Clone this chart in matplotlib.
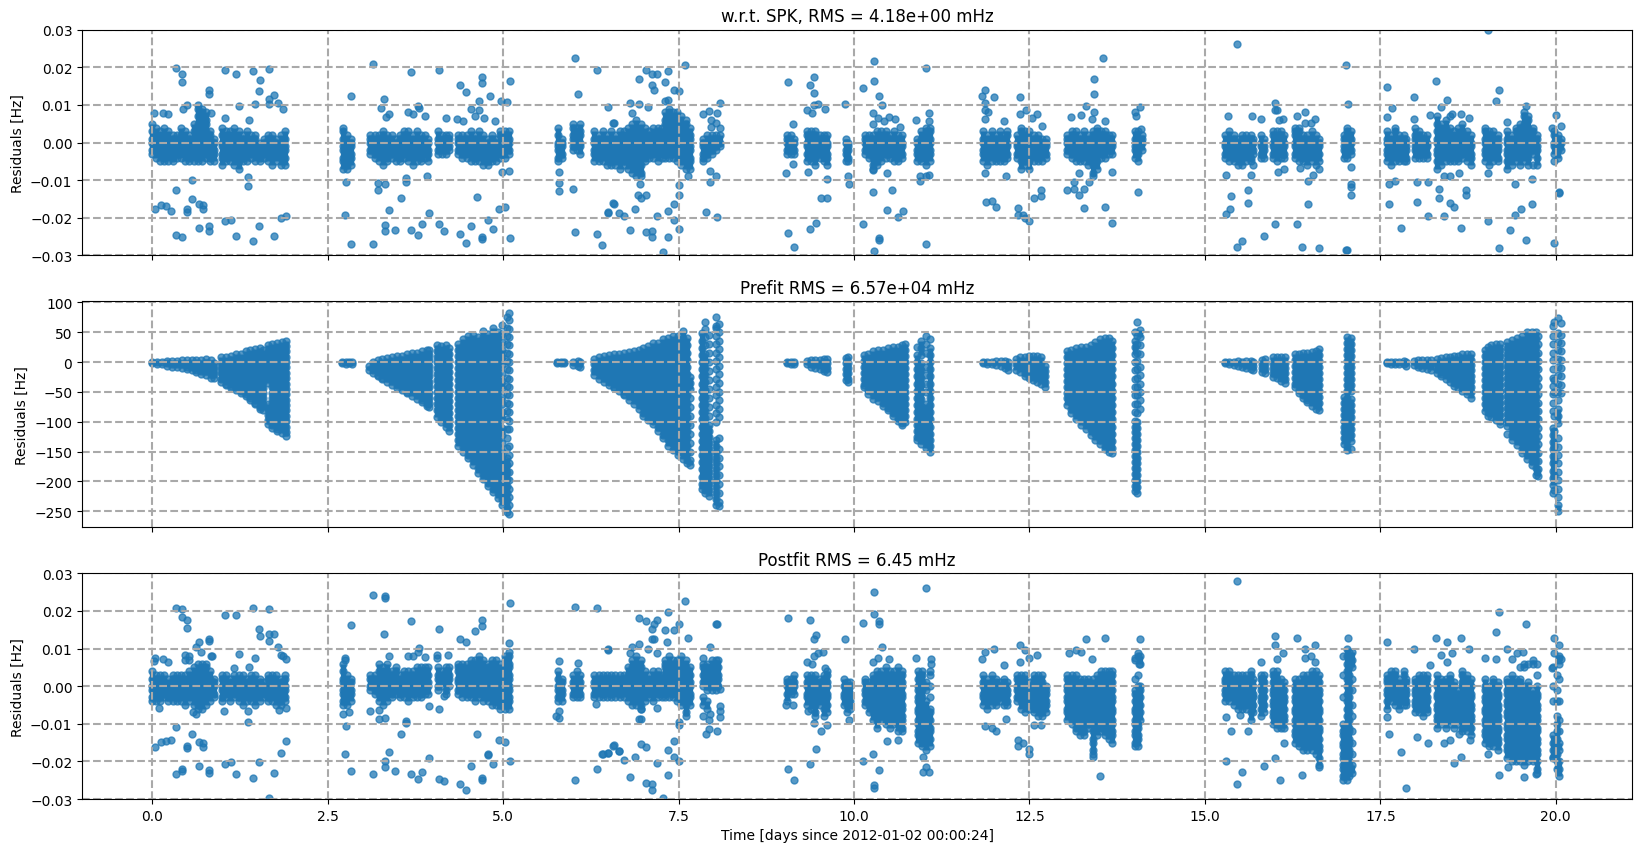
import matplotlib
matplotlib.use('Agg')
import matplotlib.pyplot as plt

# residuals are stored as (time [days], [values]) columns, one list per tracking arc
# spk / post values in mHz, prefit values in Hz
spk_arc1 = [(0.0,[-3,-2,0,1,3,5]),(0.05,[-4,-2,-1,1,2,4]),(0.11,[-5,-3,-2,0,1,3]),(0.17,[-5,-4,-2,-1,1,2,4]),
 (0.23,[-5,-3,-2,0,1,3]),(0.29,[-5,-4,-2,-1,1,2]),(0.35,[-4,-3,-1,0,2]),(0.41,[-4,-2,-1,1,2,4]),
 (0.47,[-5,-3,-2,0,1,3]),(0.53,[-5,-4,-2,-1,1,2]),(0.59,[-5,-3,-2,0,1,3,5]),(0.65,[-5,-4,-2,-1,1,2,4,5,7,9,10]),
 (0.71,[-5,-3,-2,0,1,3,4,6,8,9]),(0.77,[-4,-3,-1,0,2,3,5,6,8]),(0.83,[-5,-4,-2,-1,1,2,3]),(0.88,[-5,-3,-2,0,1]),
 (1.0,[-6,-4,-3,-1,0,2,4]),(1.05,[-5,-4,-2,-1,1,3]),(1.11,[-5,-3,-2,0,1,3]),(1.17,[-6,-4,-2,-1,1,2,4]),
 (1.23,[-7,-5,-3,-2,0,1,3]),(1.29,[-5,-4,-2,-1,1,2]),(1.35,[-5,-3,-2,0,1,3]),(1.41,[-4,-3,-1,0,2]),
 (1.47,[-5,-3,-1,1,2]),(1.53,[-5,-4,-2,-1,0]),(1.59,[-4,-3,-2,0,1]),(1.65,[-5,-3,-2,0,1,2]),
 (1.71,[-6,-4,-2,-1,1,2]),(1.77,[-5,-3,-2,0,1]),(1.83,[-6,-4,-3,-1,0,2]),(1.89,[-6,-4,-2,-1,1,3])]
spk_arc2 = [(2.72,[-7,-5,-4,-2,-1,1,3,4]),(2.78,[-7,-6,-4,-3,-1,0,2]),(2.83,[-6,-4,-3,-1,0,1]),
 (3.11,[-3,-2,0,1,2]),(3.17,[-4,-3,-1,0,2]),(3.23,[-5,-3,-2,0,1,2]),(3.29,[-6,-4,-3,-1,0,2,3]),(3.35,[-5,-4,-2,-1,1,2]),
 (3.41,[-4,-3,-1,0,2]),(3.47,[-5,-3,-2,0,1]),(3.53,[-5,-4,-2,-1,1,2]),(3.59,[-4,-3,-1,0,2,3]),(3.65,[-5,-3,-2,0,1,3]),
 (3.71,[-6,-4,-3,-1,0,2]),(3.77,[-5,-3,-2,0,1,3]),(3.83,[-5,-4,-2,-1,1,2]),(3.89,[-4,-3,-1,0,2]),(3.93,[-5,-3,-2,0,1]),
 (4.07,[-3,-2,0,1,3]),(4.13,[-3,-1,0,2]),(4.19,[-3,-2,0,1,2]),(4.23,[-2,-1,1,2]),
 (4.36,[-3,-2,0,1,2]),(4.42,[-4,-3,-1,0,2]),(4.48,[-4,-2,-1,1,2]),(4.54,[-5,-3,-2,0,1,3]),(4.6,[-5,-4,-2,-1,1,2]),
 (4.66,[-5,-3,-2,0,1,3]),(4.72,[-6,-4,-3,-1,0,2]),(4.78,[-6,-5,-3,-2,0,1]),(4.84,[-5,-4,-2,-1,1,2]),(4.9,[-5,-3,-2,0,1]),
 (4.96,[-4,-3,-1,0,2,3]),(5.02,[-4,-2,-1,1,2,3]),(5.08,[-3,-2,0,1,3])]
spk_arc3 = [(5.78,[-5,-4,-2,-1,0,2,4]),(5.84,[-4,-3,-1,0,1]),(6.0,[-2,-1,1,2,4,5]),(6.05,[-2,0,1,3,4]),(6.09,[-3,-1,0,2,3,5]),
 (6.3,[-5,-3,-2,0,1,3]),(6.36,[-5,-4,-2,-1,1,2]),(6.42,[-5,-3,-2,0,1,3]),(6.48,[-6,-4,-3,-1,0,2]),(6.54,[-6,-5,-3,-2,0,1,3]),
 (6.6,[-6,-4,-3,-1,0,2]),(6.66,[-7,-5,-3,-2,0,1,3]),(6.72,[-6,-5,-3,-2,0,1,3]),(6.78,[-7,-5,-4,-2,-1,1,2,4]),(6.84,[-8,-6,-5,-3,-2,0,1,3,5]),
 (6.9,[-9,-7,-5,-4,-2,-1,1,2,4,6]),(6.96,[-9,-8,-6,-4,-3,-1,0,2,3,5]),(7.02,[-5,-4,-2,-1,1,2,4]),(7.08,[-4,-3,-1,0,2,3]),(7.14,[-4,-2,-1,1,2,4]),
 (7.2,[-5,-3,-2,0,1,3,4]),(7.26,[-4,-2,-1,1,2,4]),(7.3,[-4,-3,-1,0,2,3,5,6,8]),(7.36,[-4,-2,-1,1,2,4,5,7,8,9]),(7.42,[-4,-3,-1,0,2,3,5,6,8]),
 (7.48,[-5,-3,-2,0,1,3,4,6,8]),(7.54,[-6,-4,-3,-1,0,2,3,5,7]),(7.6,[-7,-5,-3,-2,0,1,3,5,6]),(7.66,[-7,-5,-4,-2,-1,1,2,4]),
 (7.85,[-5,-4,-3,-1,0,1]),(7.91,[-4,-3,-1,0,2]),(7.97,[-3,-2,0,1,2]),(8.03,[-2,-1,1,2]),(8.09,[-1,0,2])]
spk_arc4 = [(9.05,[-3,-2,0,1,2]),(9.1,[-3,-1,0,2]),(9.14,[-3,-2,0,1]),(9.33,[-5,-3,-1,0,2,3]),(9.39,[-5,-4,-2,-1,1,2,3]),
 (9.45,[-6,-4,-3,-1,0,2,3]),(9.51,[-4,-3,-2,0,1,2]),(9.57,[-5,-4,-2,-1,1,2]),(9.62,[-6,-4,-3,-1,0,2]),
 (9.88,[-5,-3,-2,0,1]),(9.92,[-5,-4,-2,-1,0]),(10.15,[-3,-2,0,1,2]),(10.21,[-4,-3,-1,0,2]),(10.27,[-7,-6,-4,-2,-1,1,2]),
 (10.33,[-6,-5,-3,-2,0,1,3]),(10.39,[-5,-3,-2,0,1,3]),(10.45,[-4,-3,-1,0,2,3]),(10.51,[-4,-2,-1,1,2]),(10.57,[-5,-3,-2,0,1,3]),
 (10.63,[-5,-4,-2,-1,1,2]),(10.69,[-4,-3,-1,0,2]),(10.9,[-5,-3,-2,0,1]),(10.96,[-5,-4,-2,-1,1,3]),(11.02,[-6,-4,-3,-1,0,2,3,4]),(11.08,[-5,-3,-2,0,1,3,4])]
spk_arc5 = [(11.84,[-5,-3,-2,0,1,3]),(11.9,[-6,-4,-3,-1,0,2]),(11.96,[-5,-3,-2,0,1,3]),(12.02,[-5,-4,-2,-1,1,2]),(12.08,[-5,-3,-2,0,1,3]),
 (12.14,[-5,-4,-2,-1,1,2]),(12.18,[-4,-3,-1,0,2,3]),(12.32,[-4,-3,-1,0,2]),(12.38,[-7,-5,-3,-2,0,1,3,4]),(12.44,[-6,-5,-3,-2,0,1,3]),
 (12.5,[-7,-5,-4,-2,-1,0,1,3]),(12.56,[-5,-3,-2,0,1,2]),(12.62,[-5,-4,-2,-1,1,2]),(12.68,[-5,-3,-2,0,1]),(12.73,[-4,-3,-1,0,1]),
 (13.04,[-3,-2,0,1,2]),(13.1,[-4,-3,-1,0,2,3]),(13.16,[-5,-3,-2,0,1,3]),(13.22,[-5,-4,-2,-1,1,2]),(13.28,[-5,-3,-2,0,1,3]),
 (13.34,[-6,-4,-3,-1,0,2]),(13.4,[-9,-8,-6,-4,-3,-1,0,2,3]),(13.46,[-7,-5,-3,-2,0,1,3,4]),(13.52,[-4,-3,-1,0,2,3]),(13.58,[-4,-2,-1,1,2,3]),(13.64,[-3,-2,0,1,2]),(13.68,[-3,-1,0,2]),
 (14.0,[-4,-2,-1,1,3]),(14.05,[-5,-3,-2,0,1,3]),(14.1,[-2,0,1,2])]
spk_arc6 = [(15.29,[-4,-3,-1,0,2]),(15.35,[-5,-3,-2,0,1,3]),(15.41,[-5,-4,-2,-1,1,2]),(15.47,[-6,-4,-3,-1,0,1]),(15.53,[-6,-4,-2,-1,1,2]),
 (15.59,[-5,-3,-2,0,1,2]),(15.65,[-5,-4,-2,-1,1,2]),(15.69,[-6,-3,-2,0,1]),(15.8,[-4,-3,-1,0,2]),(15.84,[-4,-2,-1,1]),
 (15.97,[-4,-3,-1,0,2,3]),(16.03,[-5,-3,-2,0,1,3]),(16.09,[-4,-2,-1,1,2,3]),(16.13,[-4,-3,-1,0,2]),
 (16.28,[-4,-3,-1,0,2,3,4]),(16.34,[-5,-3,-2,0,1,3,4]),(16.4,[-5,-4,-2,-1,1,2]),(16.46,[-6,-4,-3,-1,0,2]),(16.52,[-5,-3,-2,0,1,3]),(16.58,[-6,-4,-3,-1,0,2]),(16.63,[-5,-3,-1,0,1]),
 (16.98,[-4,-2,-1,1,2]),(17.03,[-4,-3,-1,0,2,3,4]),(17.08,[-3,-2,0,1,3])]
spk_arc7 = [(17.59,[-5,-3,-2,0,1,3]),(17.65,[-6,-4,-3,-1,0,2]),(17.71,[-5,-3,-2,0,1,3,4]),(17.77,[-5,-4,-2,-1,1,2]),(17.83,[-5,-3,-2,0,1,2]),(17.87,[-5,-4,-2,-1,1]),
 (17.99,[-4,-2,-1,1,2,4]),(18.05,[-4,-3,-1,0,2,3]),(18.11,[-4,-2,-1,1,2]),(18.17,[-4,-3,-1,0,2]),
 (18.31,[-7,-5,-3,-2,0,1,3,5,7]),(18.37,[-6,-4,-3,-1,0,2,3,5]),(18.43,[-5,-3,-2,0,1,3,4,6]),(18.49,[-5,-4,-2,-1,1,2,4,7]),(18.55,[-5,-3,-2,0,1,3]),(18.61,[-5,-4,-2,-1,1,2,4]),
 (18.67,[-4,-3,-1,0,2,3,5]),(18.73,[-5,-3,-2,0,1,3]),(18.79,[-6,-4,-3,-1,0,2]),
 (18.99,[-5,-3,-2,0,1,3,4]),(19.05,[-6,-4,-3,-1,0,2,3]),(19.11,[-5,-3,-2,0,1,3]),(19.17,[-5,-4,-2,-1,1,2]),
 (19.31,[-7,-5,-3,-2,0,1,3]),(19.37,[-6,-4,-3,-1,0,2]),(19.43,[-5,-3,-2,0,1,3,4]),(19.49,[-6,-4,-2,-1,1,2,4,5]),(19.55,[-5,-3,-2,0,1,3,5,7,8]),
 (19.61,[-6,-4,-3,-1,0,2,4,6,7]),(19.67,[-6,-3,-2,0,1,3,4]),(19.73,[-6,-4,-2,-1,1,2]),(19.98,[-3,-1,0,2,3]),(20.03,[-4,-2,-1,1,2]),(20.08,[-2,0,1])]

spk_out = [(.34,19.8),(.43,18.2),(.43,16.1),(1.04,19.2),(1.2,18.2),(1.44,19),(1.67,19.5),(1.54,16.6),(1.52,13.7),(1.74,12.7),(1.67,11.7),(1.67,10.3),(1.79,10.5),(1.86,8.9),(1.47,10.3),(1.23,9.7),(.81,14),(.81,12.8),(.49,10.1),(.44,8.9),(.02,7.9),(.15,7.9),(.22,7.6),(.84,7.9),(1.03,6.5),(1.38,6),
 (.57,-9.9),(.34,-12.6),(1.36,-9.1),(1.36,-11.5),(.57,-15),(.66,-16.3),(.73,-16.5),(.73,-17.6),(.5,-17.6),(.5,-18.4),(.27,-18.1),(.19,-16.8),(.12,-16.5),(.04,-17.6),(1.9,-19.5),(1.83,-20),(1.12,-20.5),(1.04,-20.8),(.81,-22.1),(.81,-23.5),(.66,-22.7),(1.52,-22.1),(.34,-24.5),(.43,-25),(1.2,-24.8),(1.74,-24.8),(1.44,-26.1),
 (3.15,20.9),(2.83,12.4),(3.69,18.8),(4.09,19.3),(4.39,15.3),(4.47,13.5),(4.7,17.4),(4.7,15.8),(4.82,12.4),(4.66,11.1),(4.97,11.1),(5.05,10.8),(5.1,16.4),(3.3,11.6),(3.26,9.2),(3.78,9.7),(3.8,9.2),(3.37,7.6),(3.33,6.8),(3.65,8.1),(3.72,7.6),(3.88,7.1),(4.19,6.5),(4.34,6.3),(4.43,5.8),(4.54,8.9),(4.66,8.7),(4.6,7.1),(4.73,6.5),(4.88,5.8),
 (2.76,-10.5),(3.22,-10.7),(3.31,-11),(3.22,-12.6),(3.62,-9.4),(3.62,-10.5),(3.91,-8.8),(4.99,-7.8),(5.08,-7.5),(3.54,-14.7),(4.63,-14.4),(2.75,-19.2),(3.38,-17.9),(3.94,-18.7),(5.02,-17.1),(4.94,-17.6),(4.79,-20.5),(3.31,-21.9),(3.31,-23.5),(3.46,-23.2),(3.69,-23.2),(3.85,-21.6),(4.08,-21.6),(4.16,-23.5),(3.78,-24.5),(4.39,-24.2),(4.54,-22.1),(4.86,-22.9),(4.7,-25),(4.7,-25.6),(5.1,-25.3),(2.83,-26.9),(3.15,-26.9),(4.47,-26.6),
 (6.03,22.5),(6.34,19.3),(6.06,12.9),(6.5,9.5),(6.58,5.2),(5.79,-7.8),(5.79,-10.7),(5.79,-12.8),(6,-12.3),(6.58,-16.3),(6.5,-18.7),(6.03,-23.7),(6.34,-24.2),(6.41,-27.2),
 (6.93,16.9),(7.04,19.3),(7.12,18.1),(7.19,18.3),(7.35,18.9),(7.3,16),(7.12,15.2),(7.15,13.9),(7.43,14.1),(7.5,13.6),(7.59,20.7),(6.81,10.4),(6.93,10.2),(7.06,9.4),(6.83,7.8),(6.56,5.2),(7.3,11),(7.35,11.2),
 (6.95,-11.1),(6.92,-13.8),(6.96,-14.8),(7.04,-13.8),(6.56,-16.1),(6.88,-17.7),(6.49,-18.5),(6.65,-18.8),(6.72,-19.6),(7.19,-19.6),(7.35,-18.2),(7.43,-16.4),(7.43,-20.6),(7.5,-11.4),(7.5,-13.8),(7.5,-23),(6.81,-23.2),(7.04,-23.8),(7.12,-23.5),(7.12,-25.1),(7.35,-25.1),(7.28,-29),
 (8.09,10.4),(7.85,7.5),(7.93,8.3),(8.05,7.8),(7.96,6),(8.09,3.9),(7.96,4.1),(8.04,5.2),(7.63,-8.8),(7.95,-7.5),(8.03,-9),(7.95,-10.6),(7.89,-18.5),(8.05,-19.8),
 (9.06,16.2),(9.37,15.2),(9.43,17.3),(9.43,13.1),(9.43,9.9),(9.49,10.2),(9.33,8.6),(9.4,7.8),(9.59,8.9),(9.87,10.2),(9.13,4.9),(9.13,-5.6),(9.03,-8),(9.35,-7.7),(9.62,-9.8),(9.92,-9),(9.93,-11.1),(9.53,-14.8),(9.62,-14.6),(9.46,-21.4),(9.37,-23),(9.06,-24),(9.15,-27.7),
 (10.29,21.8),(10.29,16.5),(10.13,14.6),(10.36,12.5),(10.4,9.9),(10.27,7.8),(10.34,6.5),(10.5,6.8),(10.43,5.7),(10.59,6.2),(10.89,6),(11.02,19.9),(11.07,7.8),(11.07,5.7),(10.27,4.9),(10.66,4.1),
 (10.47,-8.2),(10.27,-7.2),(10.27,-13.2),(10.54,-12.7),(10.47,-18),(10.7,-18.2),(10.63,-19.8),(10.13,-21.7),(10.36,-25.4),(10.36,-25.9),(10.29,-28.8),(11.02,-26.9),(10.94,-9),(11.02,-8.8),(11.07,-8.5),(10.94,-10.1),
 (11.86,14.1),(11.83,12.3),(11.99,12),(11.86,10.4),(11.86,8.6),(11.91,8.1),(11.86,6.2),(12.14,5.7),(12.37,12),(12.45,8.6),(12.37,7.5),(12.54,6.5),(12.61,7.5),(12.68,4.4),
 (11.86,-8.2),(12.17,-9),(11.88,-15.9),(11.96,-15.6),(12.03,-17.2),(12.34,-17.5),(12.34,-19.3),(12.41,-19.3),(12.43,-20),(12.5,-20.9),(12.57,-14.6),(12.66,-12.7),(12.66,-14.3),
 (13.55,22.5),(13.42,17),(13.42,12.8),(13.31,9.6),(13.42,8.1),(13.09,6.8),(13.23,7.3),(13.39,6.2),(13.58,5.7),(13.2,-8),(13.67,-7.7),(13.13,-10.6),(13.04,-12.5),(13.13,-12.2),(13.28,-12.2),(13.2,-14),(13.28,-17.5),(13.58,-17.2),(13.67,-21.4),(13.35,-10.6),
 (14.08,9.4),(14,8.1),(14.02,7),(14.09,3.6),(14.05,-13.2),
 (15.46,26.2),(15.33,7),(15.67,7),(15.8,6.2),(16,10.4),(16,8.6),(16.03,8.6),(16.11,6.2),(16.05,6),(16.31,7),(16.43,8.1),(16.57,6.2),(16.43,5.2),(16.51,5.2),(17.01,20.7),(17.04,10.2),
 (15.3,-8.5),(15.66,-8.5),(16.04,-7.7),(16.13,-6.9),(16.35,-6.7),(16.54,-8.5),(16.62,-6.9),(16.47,-10.1),(15.61,-12.5),(15.37,-14.3),(15.61,-16.1),(16.47,-16.4),(15.36,-17.7),(15.3,-19),(16,-21.7),(16.31,-21.7),(15.84,-24.8),(15.53,-26.1),(15.46,-27.7),(16.38,-27.7),(16.62,-28),(17.01,-28.5),(17.02,-28.5),(17.08,-6.4),(17.08,-11.1),(17.08,-11.9),(17.08,-13.8),
 (19.03,30),(17.59,14.9),(17.66,9.1),(17.59,6.8),(18.29,16.5),(17.98,12),(18.45,11.2),(18.36,9.4),(17.98,6.2),(18.21,7.3),(18.52,7.5),(18.65,7.5),(18.76,6.5),(19.15,11),(19.19,14.1),(19.31,5.4),(19.58,9.6),(20,7.3),(20.07,4.4),(19.95,3.9),
 (17.63,-10.9),(17.63,-16.4),(17.79,-22.7),(17.71,-10.1),(18.02,-10.4),(18.18,-10.4),(18.02,-15.9),(18.34,-12.2),(18.34,-14.6),(18.49,-16.1),(18.55,-17.2),(18.18,-19.6),(18.41,-19.6),(18.65,-22.7),(18.72,-12.7),(18.72,-14),(18.62,-8.2),(18.49,-9),(18.41,-8.8),(19.03,-8),(19.42,-10.9),(19.66,-9.8),(19.66,-16.4),(19.5,-17.7),(19.42,-19.3),(19.03,-20.9),(19.35,-23.2),(19.58,-25.9),(19.19,-28),(19.98,-26.7),(20.04,-13),(20.04,-13.5),(19.98,-4.8)]

pre_arc1 = [(0.0,[0,-1]),(0.07,[1,-3]),(0.14,[1,-4]),(0.21,[2,-2,-6]),(0.28,[2,-3,-8]),(0.35,[2,-3,-9]),(0.42,[3,-4,-10]),(0.49,[3,-3,-8,-12]),(0.56,[3,-3,-9,-14]),
 (0.63,[4,-2,-8,-14,-17]),(0.7,[4,-3,-9,-15,-20]),(0.77,[5,-2,-9,-15,-22]),(0.84,[4,-4,-12,-20,-26]),(0.88,[-2,-10,-18,-26]),
 (0.98,[8,-1,-10,-19,-28,-34]),(1.05,[9,0,-9,-18,-27,-36,-38]),(1.12,[11,3,-5,-14,-23,-32,-40,-43]),(1.19,[13,4,-5,-14,-23,-32,-41,-47]),(1.26,[14,5,-4,-13,-22,-31,-40,-48,-52]),
 (1.33,[18,9,0,-9,-18,-27,-36,-45,-54,-57]),(1.4,[20,11,2,-7,-16,-25,-34,-43,-52,-61,-64]),(1.47,[22,13,4,-5,-14,-23,-32,-41,-50,-59,-68,-71]),(1.54,[24,15,6,-3,-12,-21,-30,-39,-48,-57,-66,-75,-79]),(1.58,[20,11,2,-7,-16,-25,-34,-43,-52,-61,-70,-80]),
 (1.65,[28,19,10,1,-8,-17,-26,-35,-70,-79,-88,-97,-104]),(1.71,[30,21,12,3,-6,-15,-24,-33,-42,-51,-60,-69,-78,-87,-96,-105,-110]),(1.78,[32,23,14,5,-4,-13,-22,-31,-40,-49,-58,-67,-76,-85,-94,-103,-112,-116]),
 (1.85,[34,25,16,7,-2,-11,-20,-29,-38,-47,-56,-65,-74,-83,-92,-101,-110,-119]),(1.91,[36,27,18,9,0,-9,-18,-27,-36,-45,-54,-63,-72,-81,-90,-99,-108,-117,-124])]
pre_arc2 = [(2.71,[0,-2]),(2.76,[1,-3]),(2.81,[0,-2]),(2.85,[0,-3]),
 (3.09,[-7,-13]),(3.14,[1,-6,-14,-18]),(3.21,[3,-5,-13,-21,-24]),(3.28,[5,-3,-11,-19,-27,-29]),(3.35,[7,-2,-10,-18,-26,-34]),(3.42,[8,0,-8,-16,-24,-32,-38]),(3.49,[10,1,-7,-15,-23,-31,-39,-43]),
 (3.56,[11,3,-6,-14,-22,-30,-38,-46]),(3.63,[13,4,-5,-14,-23,-32,-41,-50,-52]),(3.7,[15,6,-3,-12,-21,-30,-39,-48,-57]),(3.77,[16,7,-2,-11,-20,-29,-38,-47,-56,-62]),(3.84,[18,9,0,-9,-18,-27,-36,-45,-54,-63,-67]),(3.91,[20,11,2,-7,-16,-25,-34,-43,-52,-61,-70,-74]),(3.95,[21,12,3,-6,-15,-24,-33,-42,-51,-60,-69,-76]),
 (4.06,[28,19,9,0,-10,-20,-30,-40,-50,-60,-70,-80,-92]),(4.12,[27,17,7,-3,-13,-23,-33,-43,-53,-63,-73,-83,-93,-100]),(4.18,[28,18,8,-2,-12,-22,-32,-42,-52,-62,-72,-82,-92,-102,-108]),(4.23,[24,14,4,-6,-16,-26,-36,-46,-56,-66,-76,-86,-96,-106,-116]),
 (4.36,[30,20,10,0,-10,-20,-30,-40,-50,-60,-70,-80,-90,-100,-110,-120,-130,-140]),(4.43,[38,28,18,8,-2,-12,-22,-32,-42,-52,-62,-72,-82,-92,-102,-112,-122,-132,-142,-150]),
 (4.5,[44,34,24,14,4,-6,-16,-26,-36,-46,-56,-66,-76,-86,-96,-106,-116,-126,-136,-146,-156,-160]),(4.57,[45,35,25,15,5,-5,-15,-25,-35,-45,-55,-65,-75,-85,-95,-105,-115,-125,-135,-145,-155,-165,-172]),
 (4.64,[42,32,22,12,2,-8,-18,-28,-38,-48,-58,-68,-78,-88,-98,-108,-118,-128,-138,-148,-158,-168,-178,-186]),(4.71,[52,42,32,22,12,2,-8,-18,-28,-38,-48,-58,-68,-78,-88,-98,-108,-118,-128,-138,-148,-158,-168,-178,-188,-196]),
 (4.78,[47,37,27,17,7,-3,-13,-23,-33,-43,-53,-63,-73,-83,-93,-103,-113,-123,-133,-143,-153,-163,-173,-183,-193,-203,-207]),(4.85,[58,48,38,28,18,8,-2,-12,-22,-32,-42,-52,-62,-72,-82,-92,-102,-112,-122,-132,-142,-152,-162,-172,-182,-192,-202,-212,-218]),
 (4.92,[50,40,30,20,10,0,-10,-20,-30,-40,-50,-60,-70,-80,-90,-100,-110,-120,-130,-140,-150,-160,-170,-180,-190,-200,-210,-220,-228]),(4.99,[62,47,34,20,8,-4,-18,-32,-44,-58,-70,-84,-96,-110,-122,-136,-150,-160,-170,-180,-190,-200,-210,-220,-230,-240]),
 (5.05,[75,58,44,30,16,2,-12,-26,-40,-54,-68,-82,-96,-112,-128,-144,-160,-172,-184,-196,-208,-220,-232,-244,-252]),(5.09,[83,70,56,42,28,14,0,-14,-28,-42,-56,-70,-84,-98,-112,-140,-155,-170,-185,-198,-212,-226,-240,-254])]
pre_arc3 = [(5.77,[0,-2]),(5.82,[1,-2]),(5.87,[0,-2]),(6.0,[0,-5]),(6.06,[2,-6]),(6.1,[0,-8]),
 (6.3,[6,-4,-14,-21]),(6.37,[9,0,-9,-18,-28]),(6.44,[10,1,-8,-17,-26,-33]),(6.51,[12,3,-6,-15,-24,-33,-38]),(6.58,[13,4,-5,-14,-23,-32,-41,-44]),(6.65,[14,5,-4,-13,-22,-31,-40,-49]),
 (6.72,[16,6,-4,-14,-24,-34,-44,-54,-56]),(6.79,[17,7,-3,-13,-23,-33,-43,-53,-63]),(6.86,[19,9,-1,-11,-21,-31,-41,-51,-61,-71]),(6.93,[21,11,1,-9,-19,-29,-39,-49,-59,-69,-79]),
 (7.0,[24,14,4,-6,-16,-26,-36,-46,-56,-66,-76,-86,-90]),(7.07,[27,17,7,-3,-13,-23,-33,-43,-53,-63,-73,-83,-93,-97]),(7.14,[32,22,12,2,-8,-18,-28,-38,-48,-58,-68,-78,-88,-98,-104]),
 (7.21,[32,22,12,2,-8,-18,-28,-38,-48,-58,-68,-78,-88,-98,-108,-116]),(7.28,[38,28,18,8,-2,-12,-22,-32,-42,-52,-62,-72,-82,-92,-102,-112,-122,-128]),(7.35,[40,30,20,10,0,-10,-20,-30,-40,-50,-60,-70,-80,-90,-100,-110,-120,-130,-140]),
 (7.42,[43,33,23,13,3,-7,-17,-27,-37,-47,-57,-67,-77,-87,-97,-107,-117,-127,-137,-147]),(7.49,[44,34,24,14,4,-6,-16,-26,-36,-46,-56,-66,-76,-86,-96,-106,-116,-126,-136,-146,-156]),
 (7.56,[52,40,28,16,4,-8,-20,-32,-44,-56,-68,-80,-92,-104,-116,-128,-140,-152,-162]),(7.62,[40,28,16,4,-8,-20,-32,-44,-56,-68,-80,-92,-104,-116,-128,-140,-152,-164,-170]),(7.66,[-25,-35,-45,-60,-75,-90,-105,-120,-135,-150,-165,-172]),
 (7.83,[48,36,24,12,0,-12,-24,-36,-48,-60,-72,-84,-96,-108,-120,-132,-144,-156,-168,-180,-192,-204,-213]),(7.88,[68,55,42,28,14,2,-10,-22,-34,-46,-58,-70,-82,-94,-106,-118,-130,-142,-154,-166,-178,-190,-202,-214,-220]),(7.93,[45,30,15,0,-15,-30,-45,-60,-75,-90,-105,-115,-125,-135,-145,-155,-165,-175,-185,-195,-205,-215,-225]),
 (8.03,[76,60,58,44,30,16,2,-12,-28,-42,-56,-72,-86,-100,-130,-140,-150,-160,-170,-180,-190,-200,-210,-220,-230,-240]),(8.07,[64,50,36,22,8,-6,-20,-35,-50,-64,-78,-92,-128,-145,-160,-175,-190,-205,-220,-235,-242])]
pre_arc4 = [(9.05,[0,-2]),(9.1,[1,-3]),(9.15,[0,-3]),(9.33,[2,-4]),(9.39,[3,-3,-9]),(9.45,[3,-3,-10]),(9.51,[4,-3,-11]),(9.57,[5,-3,-11,-15]),(9.62,[5,-2,-10,-17]),
 (9.88,[7,-2,-11,-20,-30]),(9.92,[8,-1,-10,-19,-28,-33]),
 (10.14,[12,2,-8,-18,-28,-38,-42]),(10.2,[14,4,-6,-16,-26,-36,-46,-54]),(10.27,[18,8,-2,-12,-22,-32,-42,-52,-62]),(10.34,[21,11,1,-9,-19,-29,-39,-49,-59,-66]),(10.41,[21,11,1,-9,-19,-29,-39,-49,-59,-69,-74]),
 (10.48,[23,13,3,-7,-17,-27,-37,-47,-57,-67,-77,-81]),(10.55,[25,15,5,-5,-15,-25,-35,-45,-55,-65,-75,-85,-90]),(10.62,[26,16,6,-4,-14,-24,-34,-44,-54,-64,-74,-84,-94,-98]),(10.69,[28,18,8,-2,-12,-22,-32,-42,-52,-62,-72,-82,-92,-102,-106]),(10.73,[30,20,10,0,-10,-20,-30,-40,-50,-60,-70,-80,-90,-100]),
 (10.9,[25,12,0,-12,-24,-36,-48,-60,-72,-84,-96,-106,-116,-126,-130]),(10.96,[36,24,12,-2,-14,-26,-38,-50,-62,-74,-86,-98,-110,-120,-130,-138]),(11.02,[44,30,16,-8,-22,-36,-50,-70,-82,-94,-106,-116,-126,-136,-144]),(11.08,[38,24,12,0,-12,-24,-36,-48,-60,-72,-84,-96,-108,-120,-130,-140,-150])]
pre_arc5 = [(11.84,[1,-2]),(11.9,[1,-3]),(11.97,[1,-4]),(12.03,[2,-5]),(12.09,[2,-7]),(12.15,[2,-4,-10]),(12.19,[0,-6,-13]),
 (12.31,[6,-3,-13]),(12.37,[9,0,-9,-17]),(12.43,[9,0,-9,-18,-24]),(12.49,[10,1,-8,-17,-26]),(12.55,[11,2,-7,-16,-25,-30]),(12.61,[11,2,-7,-16,-25,-33]),(12.67,[8,-1,-10,-19,-28,-37]),(12.72,[-7,-15,-24,-33,-42]),
 (13.03,[19,9,-1,-11,-21,-31,-41,-51,-60,-72]),(13.09,[21,11,1,-9,-19,-29,-39,-49,-59,-69,-79,-85]),(13.16,[23,13,3,-7,-17,-27,-37,-47,-57,-67,-77,-87,-95]),(13.23,[25,15,5,-5,-15,-25,-35,-45,-55,-65,-75,-85,-95,-105]),
 (13.3,[26,16,6,-4,-14,-24,-34,-44,-54,-64,-74,-84,-94,-104,-112]),(13.37,[28,18,8,-2,-12,-22,-32,-42,-52,-62,-72,-82,-92,-102,-112,-122]),(13.44,[33,22,11,0,-11,-22,-33,-44,-55,-66,-77,-88,-99,-110,-121,-130]),(13.51,[38,26,14,2,-10,-22,-34,-46,-58,-70,-82,-94,-106,-118,-130,-137]),
 (13.58,[40,28,16,4,-8,-20,-32,-44,-56,-68,-80,-92,-104,-116,-128,-140,-145]),(13.64,[40,28,16,4,-8,-20,-32,-44,-56,-68,-80,-92,-104,-116,-128,-140,-150]),(13.68,[36,24,12,0,-12,-24,-36,-48,-60,-72,-84,-96,-108,-120,-132,-144,-153]),
 (14.0,[50,36,26,14,0,-14,-28,-42,-56,-70,-84,-98,-108,-118,-128,-138,-148,-158,-168,-178,-188,-198,-208,-216]),(14.03,[68,44,30,16,2,-12,-26,-42,-56,-70,-85,-100,-110,-120,-130,-140,-150,-160,-170,-180,-190,-200,-210,-219]),(14.07,[54,42,28,14,-8,-22,-36,-50,-64,-78])]
pre_arc6 = [(15.29,[1,-2]),(15.35,[1,-3]),(15.41,[1,-5]),(15.47,[2,-6]),(15.53,[1,-8]),(15.59,[2,-5,-10]),(15.65,[2,-5,-12]),(15.69,[0,-7,-13]),
 (15.81,[4,-3,-10,-17]),(15.85,[5,-3,-11,-18]),(15.97,[8,-1,-10,-19,-25]),(16.03,[9,0,-9,-18,-27]),(16.09,[9,0,-9,-18,-27,-32]),(16.14,[8,-1,-10,-19,-28,-35]),
 (16.28,[13,4,-6,-16,-26,-36,-42]),(16.34,[14,4,-6,-16,-26,-36,-46,-52]),(16.4,[15,5,-5,-15,-25,-35,-45,-55,-60]),(16.46,[16,6,-4,-14,-24,-34,-44,-54,-64,-67]),(16.52,[17,7,-3,-13,-23,-33,-43,-53,-63,-73]),(16.58,[19,9,-1,-11,-21,-31,-41,-51,-61,-71,-79]),(16.63,[22,12,2,-8,-18,-28,-38,-48,-58,-68,-80]),
 (16.98,[-58,-68,-78,-88,-98,-108,-118,-128,-138]),(17.03,[42,32,22,12,2,-8,-18,-28,-38,-48,-60,-70,-80,-90,-100,-110,-120,-130,-140,-147]),(17.08,[41,31,21,11,1,-9,-19,-29,-39,-49,-62,-72,-82,-92,-102,-112,-122,-132,-145])]
pre_arc7 = [(17.59,[1,-2]),(17.65,[1,-3]),(17.71,[1,-3]),(17.77,[1,-4]),(17.83,[2,-4]),(17.87,[1,-6]),
 (17.98,[2,-5]),(18.04,[3,-5,-8]),(18.1,[3,-5,-10]),(18.16,[4,-4,-12]),(18.22,[4,-4,-14]),
 (18.31,[6,-3,-12,-18]),(18.37,[7,-2,-11,-20,-24]),(18.43,[8,-1,-10,-19,-28]),(18.49,[9,0,-9,-18,-27,-34]),(18.55,[10,1,-8,-17,-26,-35,-40]),(18.61,[11,2,-7,-16,-25,-34,-43]),
 (18.67,[13,4,-5,-14,-23,-32,-41,-48]),(18.73,[14,5,-4,-13,-22,-31,-40,-49,-54]),(18.79,[13,4,-5,-14,-23,-32,-41,-50,-60]),
 (18.99,[20,10,0,-10,-20,-30,-40,-50,-60,-70,-82]),(19.04,[26,16,6,-4,-14,-24,-34,-44,-54,-64,-74,-84,-90]),(19.07,[28,18,8,-2,-12,-22,-32,-42,-52,-62,-72,-82,-92]),
 (19.15,[30,20,10,0,-10,-20,-30,-40,-50,-60,-70,-80,-90,-97]),(19.2,[31,21,11,1,-9,-19,-29,-39,-49,-59,-69,-79,-89,-99,-103]),
 (19.31,[33,23,13,3,-7,-17,-27,-37,-47,-57,-67,-77,-87,-97,-107,-120]),(19.38,[37,27,17,7,-3,-13,-23,-33,-43,-53,-63,-73,-83,-93,-103,-113,-123,-130]),(19.45,[41,31,21,11,1,-9,-19,-29,-39,-49,-59,-69,-79,-89,-99,-109,-119,-129,-139]),
 (19.52,[44,34,24,14,4,-6,-16,-26,-36,-46,-56,-66,-76,-86,-96,-106,-116,-126,-136,-146,-152]),(19.59,[50,38,26,14,2,-10,-22,-34,-46,-58,-70,-82,-94,-106,-118,-130,-142,-154,-162]),(19.66,[50,38,26,14,2,-10,-22,-34,-46,-58,-70,-82,-94,-106,-118,-130,-142,-154,-166,-172]),
 (19.72,[50,38,26,14,2,-10,-22,-34,-46,-58,-70,-82,-94,-106,-118,-130,-142,-154,-166,-178,-190]),(19.75,[44,30,16,2,-12,-26,-40,-54,-68,-82,-96,-110,-124,-138,-152,-166,-180,-191]),
 (19.96,[60,44,30,16,3,-12,-26,-40,-54,-68,-82,-110,-122,-134,-146,-158,-170,-182,-194,-206,-220]),(19.98,[68,-30,-50,-90,-115,-140,-165,-190,-215]),(20.03,[74,48,34,20,6,-8,-22,-36,-50,-64,-78,-90,-102,-128,-142,-156,-170,-184,-198,-212,-226,-240,-250]),(20.07,[66,46,32,18,4,-10,-24,-38,-52])]

post_arc1 = [(0.0,[-4,-3,-1,0,2,4]),(0.05,[-4,-2,-1,1,2,3]),(0.11,[-4,-3,-1,0,1,3]),(0.17,[-3,-2,0,1,3]),(0.23,[-4,-3,-1,0,2]),(0.29,[-4,-2,-1,1,2,3]),(0.35,[-4,-3,-1,0,2,3]),(0.41,[-4,-2,0,1,3]),
 (0.47,[-5,-3,-2,0,1,3]),(0.53,[-4,-2,-1,1,2,4]),(0.59,[-5,-3,-2,0,1,3,5]),(0.65,[-6,-5,-3,-2,0,1,3,4,6]),(0.71,[-6,-4,-3,-1,0,2,3,5,6]),(0.77,[-5,-3,-2,0,1,3,5,6]),(0.83,[-4,-2,-1,1,2,4]),(0.88,[-3,-2,0,1,2]),
 (1.0,[-4,-3,-1,0,2,3]),(1.05,[-3,-2,0,1,3]),(1.11,[-4,-2,-1,1,2]),(1.17,[-3,-2,0,1,3]),(1.23,[-4,-3,-1,0,2,3]),(1.29,[-5,-3,-2,0,1,3]),(1.35,[-4,-2,-1,1,2]),(1.41,[-4,-3,-1,0,2,3]),
 (1.47,[-5,-3,-2,0,1,3]),(1.53,[-4,-2,-1,1,2]),(1.59,[-3,-2,0,1]),(1.65,[-4,-3,-1,0,2,3]),(1.71,[-4,-2,-1,1,2,3]),(1.77,[-5,-3,-2,0,1,3]),(1.83,[-5,-4,-2,-1,1,2]),(1.89,[-4,-3,-1,0,2,3])]
post_arc2 = [(2.72,[-5,-4,-2,-1,1,2,4,6]),(2.78,[-5,-3,-2,0,1,3]),(2.83,[-4,-2,-1,1,2]),
 (3.11,[-1,0,2,3]),(3.17,[-2,-1,1,2,3]),(3.23,[-4,-2,-1,1,2,4,6]),(3.29,[-5,-3,-2,0,1,3,5]),(3.35,[-4,-2,-1,1,2,4,6]),(3.41,[-3,-2,0,1,3,4]),(3.47,[-2,-1,1,2,4,5]),(3.53,[-3,-2,0,1,3]),
 (3.59,[-3,-1,0,2,3,4]),(3.65,[-4,-2,-1,1,2,4]),(3.71,[-3,-2,0,1,3,4]),(3.77,[-3,-1,0,2,3,5]),(3.83,[-3,-2,0,1,3,4,5]),(3.89,[-2,-1,1,2,4,5]),(3.93,[-2,0,1,3,5]),
 (4.07,[-1,0,2,3,5]),(4.13,[0,1,3,4]),(4.19,[-2,-1,1,2,4,5]),(4.23,[0,2,3,5]),
 (4.36,[-2,-1,1,2,4,5,6]),(4.42,[-3,-1,0,2,3,5,6]),(4.48,[-3,-2,0,1,3,4,6]),(4.54,[-3,-2,0,2,3,5,6,7]),(4.6,[-4,-2,-1,1,2,4,5,7]),(4.66,[-3,-2,0,1,3,4,6,7,8]),
 (4.72,[-4,-2,-1,1,2,4,5,7]),(4.78,[-4,-3,-1,0,2,3,5,6]),(4.84,[-5,-3,-2,0,1,3,4,6,7]),(4.9,[-5,-4,-2,-1,1,2,4,5,7]),(4.96,[-6,-5,-3,-2,0,1,3,4,6]),(5.02,[-6,-5,-3,-1,0,2,3,5,7,8]),(5.08,[-6,-4,-3,-1,0,2,3,5,6,8,9])]
post_arc3 = [(5.78,[-4,-3,-1,0,2,4]),(5.84,[-4,-2,-1,1,2]),(6.0,[-3,-2,0,1,3]),(6.05,[-3,-1,0,2,4]),(6.09,[-3,-2,0,1,3]),
 (6.3,[-3,-2,0,1,3]),(6.36,[-3,-1,0,2,3]),(6.42,[-3,-2,0,1,3]),(6.48,[-3,-1,0,2,3]),(6.54,[-3,-2,0,1,3]),(6.6,[-3,-1,0,2,3]),(6.66,[-3,-2,0,1,3]),(6.72,[-3,-1,0,2,3]),
 (6.78,[-4,-2,0,1,3,5]),(6.84,[-5,-3,-2,0,1,3,5,7]),(6.9,[-5,-3,-1,0,2,3,5,6,8]),(6.96,[-6,-5,-3,-2,0,1,3,5,7]),(7.02,[-4,-2,-1,1,2,4]),(7.08,[-3,-2,0,1,3]),(7.14,[-4,-2,-1,1,2,4]),(7.2,[-3,-2,0,1,3,4]),(7.26,[-3,-1,0,2,3]),
 (7.3,[-3,-2,0,1,3,5,6,7]),(7.36,[-3,-1,0,2,3,5,6,8]),(7.42,[-3,-2,0,1,3,4,6,7]),(7.48,[-4,-2,-1,1,2,4,5,7]),(7.54,[-5,-4,-2,-1,1,2,4,6,8]),(7.6,[-8,-7,-5,-3,-2,0,1,3,5,7]),(7.66,[-5,-3,-2,0,1,3,5]),
 (7.85,[-5,-3,0,1,3,5,6]),(7.91,[-6,-4,-1,0,2,3,5,6]),(7.97,[-1,0,2,3,5,7]),(8.03,[-1,1,2,4,6,7]),(8.06,[0,2,3,5,7])]
post_arc4 = [(9.05,[-4,-2,0,1,2]),(9.1,[-2,-1,1,2]),(9.14,[-2,0,1,3]),(9.33,[-5,-3,-2,0,1,3]),(9.39,[-6,-4,-3,-1,0,2,3]),(9.45,[-8,-7,-5,-3,-2,0,1,3]),(9.51,[-5,-3,-2,0,1,2]),(9.57,[-8,-6,-4,-3,-1,0,2,3]),(9.62,[-7,-5,-3,-2,0,1,3,4]),
 (9.86,[-5,-3,-2,0,2]),(9.9,[-7,-5,-4,-2,-1,1]),(9.94,[-6,-4,-2,0,1]),
 (10.15,[-5,-4,-2,-1,1,2]),(10.21,[-7,-5,-3,-2,0,1]),(10.27,[-9,-7,-5,-4,-2,-1,1,2,3]),(10.33,[-11,-9,-8,-6,-5,-3,-2,0,1,3,4]),(10.39,[-9,-8,-6,-5,-3,-2,0,1,3,4]),(10.45,[-10,-9,-7,-6,-4,-3,-1,0,2,3,5]),
 (10.51,[-11,-9,-8,-6,-5,-3,-2,0,1,3,4]),(10.57,[-10,-8,-7,-5,-4,-2,-1,1,2,4]),(10.63,[-12,-10,-9,-7,-6,-4,-3,-1,0,2,3,5]),(10.69,[-12,-11,-9,-8,-6,-5,-3,-2,0,1,3,4]),
 (10.91,[-15,-13,-12,-10,-9,-7,-6,-4,-3,-1,0,2,4]),(10.97,[-16,-15,-13,-11,-10,-8,-7,-5,-3,-1,1,3,4]),(11.03,[-17,-15,-13,-12,-10,-9,-7,-6,-4,-1,1]),(11.08,[-16,-14,-12,-11,-9,-7,-6,-3,0,3,4])]
post_arc5 = [(11.84,[-5,-3,-2,0,1,3]),(11.9,[-6,-4,-3,-1,0,2]),(11.96,[-5,-3,-2,0,1,3]),(12.02,[-5,-4,-2,-1,1,2]),(12.08,[-4,-3,-1,0,1]),(12.14,[-5,-3,-2,0,1,2]),(12.18,[-5,-4,-2,-1,1]),
 (12.32,[-4,-3,-1,0,2,3]),(12.38,[-6,-4,-2,-1,1,2,3]),(12.44,[-7,-5,-3,-2,0,1,3]),(12.5,[-6,-5,-3,-2,0,1]),(12.56,[-7,-6,-4,-2,-1,1,2,3]),(12.62,[-8,-6,-5,-3,-2,0,1,3]),(12.68,[-8,-7,-5,-4,-2,-1,1,3]),(12.73,[-7,-5,-4,-2,-1,0]),
 (13.04,[-9,-7,-6,-4,-3,-1,0,2,3]),(13.1,[-10,-9,-7,-6,-4,-3,-1,0,2,3]),(13.16,[-12,-11,-9,-8,-6,-5,-3,-2,0,1,3]),(13.22,[-13,-11,-10,-8,-7,-5,-4,-2,-1,1,2]),(13.28,[-13,-12,-10,-9,-7,-6,-4,-3,-1,0,2]),
 (13.34,[-11,-10,-8,-7,-5,-4,-2,-1,1,2]),(13.4,[-18,-17,-15,-14,-12,-10,-9,-7,-6,-4,-3,-1,0,2]),(13.46,[-13,-11,-10,-8,-7,-5,-4,-2,-1,1,3]),(13.52,[-12,-11,-9,-8,-6,-5,-3,-2,0,1,3,4]),(13.58,[-13,-12,-10,-8,-7,-5,-4,-2,-1,1,2,4]),(13.64,[-14,-13,-11,-10,-8,-7,-5,-4,-2,-1,1,2,4]),(13.68,[-15,-13,-12,-10,-9,-7,-6,-4,-3,-1,1,3,4]),
 (14.0,[-16,-15,-13,-12,-10,-9,-7,-6,-4,-2,-1,2,7]),(14.04,[-16,-14,-13,-11,-10,-8,-6,-4,-2,0,3,8]),(14.08,[-9,-7,-5,-3,-1,0,6,8])]
post_arc6 = [(15.29,[-4,-2,-1,1,2,4]),(15.35,[-4,-3,-1,0,2,3,4]),(15.41,[-5,-3,-2,0,1,3]),(15.47,[-6,-4,-2,-1,1,2,3]),(15.53,[-6,-5,-3,-2,0,1,3]),(15.59,[-6,-4,-3,-1,0,2,3]),(15.65,[-9,-7,-5,-3,-2,0,1,3,4]),(15.69,[-7,-5,-3,-2,0,2]),
 (15.8,[-8,-6,-4,-3,-1,0,2,3]),(15.84,[-7,-5,-3,-1,1,3]),
 (15.97,[-10,-8,-7,-5,-4,-2,-1,1,3,4]),(16.03,[-11,-10,-8,-6,-5,-3,-2,0,2,4]),(16.09,[-11,-9,-7,-6,-4,-3,-1,0,2]),(16.13,[-11,-9,-8,-6,-4,-3,-1,1]),
 (16.28,[-15,-13,-12,-10,-9,-7,-6,-4,-3,-1,0,2]),(16.34,[-16,-15,-13,-12,-10,-9,-7,-6,-4,-3,-1,0,2]),(16.4,[-17,-15,-14,-12,-11,-9,-8,-6,-5,-3,-2,0,1,3]),(16.46,[-17,-16,-14,-13,-11,-10,-8,-7,-5,-4,-2,-1,1,3]),
 (16.52,[-17,-15,-14,-12,-11,-9,-8,-6,-5,-3,-2,0,1,3,4]),(16.58,[-18,-16,-15,-13,-12,-10,-9,-7,-6,-4,-3,-1,0,2,4]),(16.62,[-21,-19,-17,-16,-14,-12,-11,-9,-7,-6,-4,-2,-1,1,3]),
 (16.97,[-25,-24,-22,-21,-19,-18,-16,-15,-13,-12,-10,-3,3,8]),(17.02,[-25,-23,-22,-20,-19,-17,-16,-14,-13,-11,-10,-8,-6,-4,-2,0,2,4,6,8,10]),(17.06,[-24,-23,-21,-20,-18,-17,-15,-14,-12,-11,-9,-7,-5,-3,-1,1,3,5,7,9]),(17.09,[-23,-21,-18,-15,-12,-8,-5,-1,2,5,7,9])]
post_arc7 = [(17.59,[-6,-4,-2,-1,1,2,3]),(17.65,[-4,-3,-1,0,2,3,4]),(17.71,[-5,-3,-2,0,1,3,4]),(17.77,[-6,-4,-3,-1,0,2]),(17.83,[-5,-3,-2,0,1,3,4]),(17.87,[-5,-4,-2,-1,1,2]),
 (17.99,[-7,-5,-4,-2,-1,1,2]),(18.05,[-7,-6,-4,-3,-1,0,2,3]),(18.11,[-8,-6,-5,-3,-2,0,1,3]),(18.17,[-7,-6,-4,-3,-1,0,2,3]),
 (18.31,[-11,-9,-8,-6,-5,-3,-2,0,1,3]),(18.37,[-10,-8,-7,-5,-4,-2,-1,1,2]),(18.43,[-11,-9,-8,-6,-5,-3,-2,0,1,2]),(18.49,[-10,-8,-7,-5,-4,-2,-1,1,2,3]),(18.55,[-11,-9,-8,-6,-5,-3,-2,0,1]),(18.61,[-10,-8,-7,-5,-4,-2,-1]),
 (18.67,[-12,-11,-9,-8,-6,-5,-3,-2,0,1,3,4]),(18.73,[-12,-10,-9,-7,-6,-4,-3,-1,0,2,3]),(18.79,[-13,-11,-9,-8,-6,-5,-3,-2,0,2]),
 (18.99,[-15,-13,-12,-10,-9,-7,-6,-4,-3,-1,0,2]),(19.05,[-16,-15,-13,-12,-10,-9,-7,-6,-4,-3,-1,0]),(19.11,[-16,-14,-13,-11,-10,-8,-7,-5,-4,-2,-1,1,2]),(19.17,[-17,-15,-14,-12,-11,-9,-8,-6,-5,-3,-2,0,1]),
 (19.31,[-19,-17,-16,-14,-13,-11,-10,-8,-7,-5,-4,-2,-1,1,2]),(19.37,[-20,-18,-17,-15,-14,-12,-11,-9,-8,-6,-5,-3,-2,0,1,3]),(19.43,[-20,-19,-17,-16,-14,-13,-11,-10,-8,-7,-5,-4,-2,-1,1,2]),(19.49,[-20,-18,-17,-15,-14,-12,-11,-9,-8,-6,-5,-3,-2,0,1,2,5]),
 (19.55,[-21,-19,-18,-16,-15,-13,-12,-10,-9,-7,-6,-4,-3,-1,0,5,6]),(19.61,[-20,-18,-17,-15,-14,-12,-11,-9,-8,-6,-5,-3,-2,0,1,6]),(19.67,[-20,-19,-17,-16,-14,-13,-11,-10,-8,-7,-5,-4,-2,-1,6,7]),(19.73,[-23,-22,-20,-18,-17,-15,-14,-12,-11,-9,-8,-6,-5,-3,-2,0,3,6]),
 (19.96,[-19,-17,-15,-13,-4,0,5]),(20.01,[-22,-20,-18,-16,-14,-12,-10,-8,-4,-1,3]),(20.05,[-24,-22,-20,-17,-15,-12,-9,-4,2,6,8])]

post_out = [(.34,20.7),(.43,20.4),(.43,18.3),(.5,17.5),(.5,15.4),(1.04,18.8),(1.2,18.8),(1.44,20.7),(1.67,20.4),(1.52,15.1),(1.54,13.3),(1.67,13.8),(1.74,13.8),(1.67,11.9),(1.79,10.4),(1.83,8.2),(1.9,7.2),(1.86,8),(1.47,7.4),(1.23,8.5),(1.38,5),(1.16,4.8),(.81,12.5),(.81,11.9),(.66,11.7),(.62,10.4),(.69,9),(.46,8.2),(.53,8),(.46,6.9),(.53,7),(.84,8),(.85,8),(.04,7.4),(.02,6.6),(.15,7.2),(.22,6.4),
 (.34,-10.9),(1.36,-9.6),(1.36,-6.6),(1.02,-6.6),(.57,-12.7),(.66,-14.9),(.73,-15.1),(.73,-16.2),(.5,-15.9),(.5,-16.5),(.27,-14.3),(.19,-14.6),(.12,-14.9),(.04,-16.2),(1.9,-14.6),(1.83,-17.8),(1.12,-20.2),(1.04,-20.7),(.81,-22.3),(.81,-23.1),(.66,-21.2),(1.52,-20.2),(.43,-22),(.43,-22.6),(.34,-23.4),(1.2,-23.4),(1.74,-23.1),(1.44,-24.4),(1.67,-29.7),(.1,-5.8),(.58,-7),(.63,-7.4),(1.8,-6.4),(1.9,-5.8),
 (3.15,24.2),(3.31,24),(3.31,23.4),(2.83,16.2),(3.69,17.3),(4.09,15.1),(3.3,13.8),(4.39,12.5),(4.47,11.7),(4.7,17.5),(4.7,15.9),(4.6,14.6),(5.1,22),(5.08,11.4),(3.8,10.1),(3.78,9),(3.65,8),(3.72,8),(3.37,8),(3.88,7.7),(4.06,8.2),(4.06,7.4),(4.22,8.2),(2.74,7.4),(2.74,6.9),
 (2.72,-7.4),(2.8,-6.9),(2.76,-10.6),(3.11,-6.6),(3.23,-6.4),(3.23,-8.8),(3.31,-8.5),(3.62,-9.3),(3.62,-9.8),(3.94,-5.3),(4.08,-6.1),(4.16,-2.7),(3.54,-12.7),(4.63,-12.7),(2.75,-18),(3.38,-17.5),(3.94,-19.1),(4.94,-14.3),(5.02,-14.9),(4.79,-18),(4.79,-18.4),(3.31,-19.9),(3.31,-21.5),(3.46,-22.6),(3.69,-23.4),(2.83,-22.6),(3.15,-23.4),(3.85,-22.8),(3.78,-24.7),(4.08,-24.7),(4.16,-25.2),(4.39,-26),(4.47,-27.6),(4.54,-21.2),(4.86,-20.7),(4.7,-24.4),(4.7,-25),(5.1,-19.9),
 (6.03,21),(6.34,20.7),(6.5,9.8),(5.79,6.6),(6.06,6.1),(5.79,-6.6),(5.76,-8),(5.8,-8.5),(6.33,-4.8),(6.58,-15.7),(6.5,-17.8),(6.42,-18.1),(6.65,-17.3),(6.34,-22),(6.03,-25),
 (6.93,18.2),(7.04,17.2),(7.19,17.7),(7.15,16.6),(7.12,15.3),(7.35,19.8),(7.3,15),(7.43,15),(7.5,16.4),(7.59,22.7),(7.12,12.4),(7.15,12.4),(7.63,12.7),(6.49,9.7),(6.93,11.3),(6.83,10.5),(7.06,10),(7.33,11.6),(7.19,8.7),(6.81,8.7),
 (7.19,-5.9),(6.96,-6.2),(6.93,-8.8),(6.96,-8.8),(7.5,-9.4),(7.5,-10.4),(6.96,-15.5),(7.04,-16.3),(6.56,-15.8),(6.49,-17.9),(6.41,-18.1),(6.65,-17.3),(6.72,-19.7),(6.88,-18.9),(7.19,-20.5),(7.35,-17.1),(7.43,-14.7),(7.43,-18.9),(7.5,-20),(7.35,-23.7),(6.81,-24.2),(7.04,-25.8),(7.12,-26.1),(7.12,-27.7),(7.28,-29.8),
 (8.03,16.4),(8.05,16.4),(7.95,10.5),(7.85,7.6),(8.09,-.8),(8.09,-5.4),(8.09,-6.7),(8.09,-8.3),(7.85,-8),(7.95,-7.3),(7.93,-9.1),(7.93,-11.5),(7.89,-12.6),(8.05,-12),
 (9.06,18),(9.37,17.7),(9.46,13.7),(9.43,12.4),(9.87,12.4),(9.56,9.2),(9.49,8.7),(9.43,7.9),(9.33,6.3),(9.4,6),(9.59,4.7),(9.03,-4.9),(9.13,-5.1),(9.35,-6.5),(9.43,-9.9),(9.62,-10.4),(9.53,-11.8),(9.93,-9.1),(9.46,-16.8),(9.37,-20.8),(9.06,-21.9),(9.15,-25),
 (10.29,24.9),(10.29,19.3),(10.13,16.9),(10.36,17.4),(10.36,16.6),(10.4,10.3),(11.02,26.2),(10.34,7.6),(10.27,6.3),(10.5,7.1),(10.89,7.6),(11.09,7.3),(11.09,6),(10.47,-14.7),(10.27,-18.1),(10.13,-20),(10.36,-22.4),(10.29,-26.4),(10.29,-27.2),(10.99,-18.9),(11.02,-21.6),(10.99,-22.7),(11.07,-22.7),(10.63,-14.4),
 (11.99,10),(11.86,9.2),(11.83,7.3),(12.14,5.5),(12.37,10.8),(12.43,9.5),(12.49,7.6),(12.61,8.4),(12.37,6.3),(12.17,-8.8),(11.86,-10.7),(11.96,-11),(12.03,-12),(12.34,-14.2),(12.34,-16),(12.41,-15.2),(12.5,-16.8),(12.5,-18.1),(12.57,-10.4),(12.66,-10.4),
 (13.31,12.4),(13.58,12.7),(13.07,8.9),(13.16,9.7),(13.23,9.2),(13.39,7.1),(13.51,-24),(13.41,-18.8),
 (14.08,12.4),(14.05,8.7),(14,7.6),(14.06,5.8),
 (15.46,28),(16,13.2),(16,10.8),(16.31,12.7),(16.43,10),(16.57,10.8),(16.43,7.6),(16.51,8.1),(16.57,6.5),(16.11,8.7),(16.03,7.1),(15.8,6.5),(17.04,12.7),(15.3,-8.2),(15.5,-7.8),(15.37,-11.8),(15.61,-12),(16.13,-15.2),(15.3,-20),(16,-19.2),(15.84,-21.3),(15.53,-22.9),(15.46,-26.1),(16.07,-25),(16.38,-23.7),(16.62,-21.6),
 (17.59,11.6),(17.98,10),(18.29,12.7),(18.45,11.6),(18.52,8.9),(18.36,8.4),(18.45,6.5),(18.21,5.5),(18.65,12.9),(18.76,10),(19.19,19.6),(19.15,14.5),(19.58,16.4),(19.31,10),(19.15,7.1),(18.99,7.6),(19.37,7.3),(19.45,8.9),(19.53,9.2),(19.98,12.7),(20.04,10.8),(19.98,8.7),(20.07,7.1),(19.95,4.7),(20.04,7.6),
 (17.59,-8.3),(17.63,-12.8),(18.02,-13.6),(18.18,-15),(17.79,-17.6),(17.87,-27.2),(18.41,-15.2),(18.49,-14.4),(18.62,-12.8),(18.65,-18.7),(18.55,-20.5),(18.78,-14.4),(19.03,-18.1),(19.19,-23.7),(19.32,-21.6),(19.55,-24.2),(19.72,-23.4),(19.96,-18.9)]

titles = ['w.r.t. SPK, RMS = 4.18e+00 mHz', 'Prefit RMS = 6.57e+04 mHz', 'Postfit RMS = 6.45 mHz']
xlabel = 'Time [days since 2012-01-02 00:00:24]'
ylabel = 'Residuals [Hz]'


def unpack(arcs, scale=1.0, extra=()):
    t, r = [], []
    for arc in arcs:
        for col_t, col_vals in arc:
            for v in col_vals:
                t.append(col_t)
                r.append(v * scale)
    for col_t, v in extra:
        t.append(col_t)
        r.append(v * scale)
    return t, r


def dense_runs(arcs, max_gap, scale=1.0):
    # stretches of a column where neighbouring samples overlap, drawn solid under the points
    x, lo, hi = [], [], []
    for arc in arcs:
        for col_t, col_vals in arc:
            vals = sorted(col_vals)
            start = vals[0]
            for a, b in zip(vals, vals[1:] + [None]):
                if b is None or b - a > max_gap:
                    if a > start:
                        x.append(col_t)
                        lo.append(start * scale)
                        hi.append(a * scale)
                    start = b
    return x, lo, hi


spk_arcs = [spk_arc1, spk_arc2, spk_arc3, spk_arc4, spk_arc5, spk_arc6, spk_arc7]
pre_arcs = [pre_arc1, pre_arc2, pre_arc3, pre_arc4, pre_arc5, pre_arc6, pre_arc7]
post_arcs = [post_arc1, post_arc2, post_arc3, post_arc4, post_arc5, post_arc6, post_arc7]

spk_t, spk_r = unpack(spk_arcs, 1e-3, spk_out)
pre_t, pre_r = unpack(pre_arcs)
post_t, post_r = unpack(post_arcs, 1e-3, post_out)

fig, ax = plt.subplots(nrows=3, ncols=1, sharex=True, figsize=(16.41, 8.53), dpi=100)
plt.subplots_adjust(left=0.05, right=0.9947, top=0.964, bottom=0.0621, hspace=0.2037)

ax[0].vlines(*dense_runs(spk_arcs, 2.1, 1e-3), color='C0', linewidth=3.8, zorder=1)
ax[1].vlines(*dense_runs(pre_arcs, 12.5), color='C0', linewidth=3.8, zorder=1)
ax[2].vlines(*dense_runs(post_arcs, 2.1, 1e-3), color='C0', linewidth=3.8, zorder=1)

ax[0].scatter(spk_t, spk_r, s=25, alpha=0.75, zorder=1)
ax[1].scatter(pre_t, pre_r, s=25, alpha=0.75, zorder=1)
ax[2].scatter(post_t, post_r, s=25, alpha=0.75, zorder=1)

for i in range(3):
    ax[i].grid(True, color='darkgray', linestyle='--', linewidth=1.5)
    ax[i].set_title(titles[i], fontsize=12)
    ax[i].set_ylabel(ylabel)

ax[0].set_ylim(-0.03, 0.03)
ax[1].set_ylim(-277, 101.7)
ax[2].set_ylim(-0.03, 0.03)
ax[2].set_xlim(-1.0, 21.09)
ax[2].set_xlabel(xlabel)

plt.savefig('out.png', dpi=100)
